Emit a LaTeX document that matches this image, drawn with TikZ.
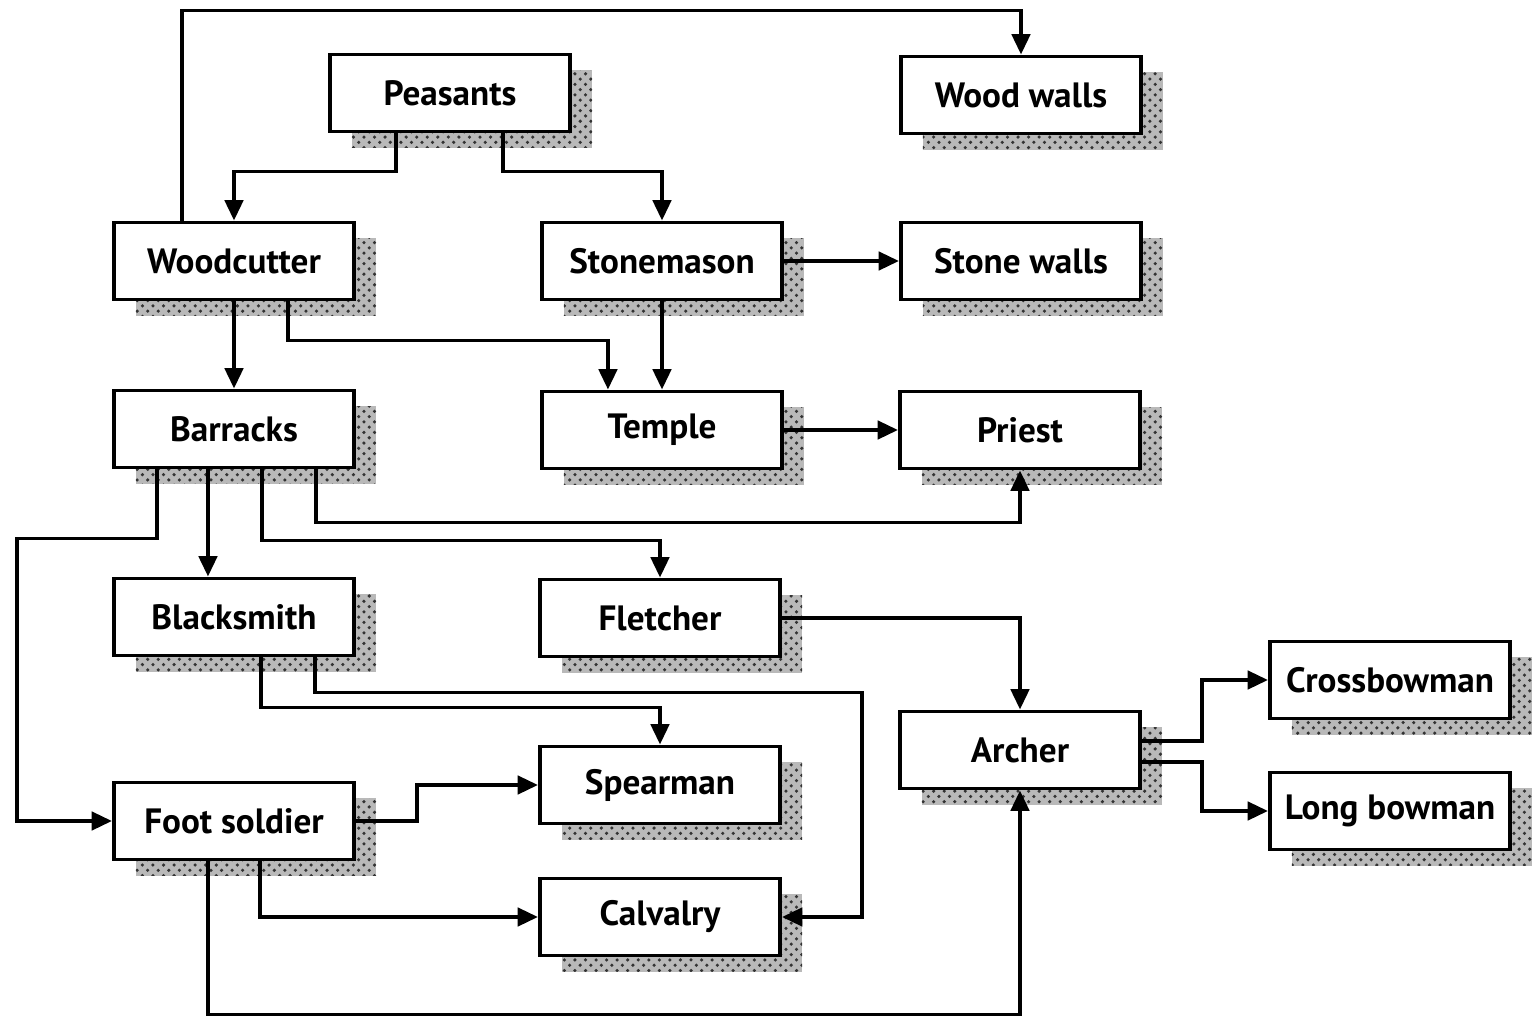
\documentclass[tikz,border=0pt]{standalone}
\usepackage{fontspec}
\setmainfont{PT Sans}
\usepackage{tikz}
\usetikzlibrary{calc}
\usetikzlibrary{arrows.meta}
\usetikzlibrary{shadows}
\usetikzlibrary{patterns}

\tikzset{
  box/.style={rectangle, draw=black, fill=white, line width=1.1pt,
    minimum width=2.4cm, minimum height=0.77cm,
    font=\fontsize{10}{12}\selectfont\bfseries,
    general shadow={fill=gray!55, shadow xshift=0.22cm, shadow yshift=-0.16cm},
    general shadow={pattern=crosshatch dots, pattern color=black!80, shadow xshift=0.22cm, shadow yshift=-0.16cm}},
  link/.style={draw=black, line width=1.1pt, -{Triangle[length=5.8pt, width=5.2pt]}}
}

\begin{document}
\begin{tikzpicture}[x=0.01cm, y=-0.01cm]
\useasboundingbox (0,0) rectangle (1535,1018);

\node [box] (pea) at (450, 93) {Peasants};
\node [box] (ww) at (1021, 95) {Wood walls};
\node [box] (wc) at (234, 261) {Woodcutter};
\node [box] (sm) at (662, 261) {Stonemason};
\node [box] (sw) at (1021, 261) {Stone walls};
\node [box] (br) at (234, 429) {Barracks};
\node [box] (tp) at (662, 430) {Temple};
\node [box] (pr) at (1020, 430) {Priest};
\node [box] (bs) at (234, 617) {Blacksmith};
\node [box] (fl) at (660, 618) {Fletcher};
\node [box] (ar) at (1020, 750) {Archer};
\node [box] (cb) at (1390, 680) {Crossbowman};
\node [box] (lb) at (1390, 811) {Long bowman};
\node [box] (spr) at (660, 785) {Spearman};
\node [box] (fs) at (234, 821) {Foot soldier};
\node [box] (cav) at (660, 917) {Calvalry};

\draw [link] ([xshift=-0.52cm]wc.north) -- ++(0,-210) -| (ww.north);
\draw [link] ([xshift=-0.54cm]pea.south) -- ++(0,38) -| (wc.north);
\draw [link] ([xshift=0.53cm]pea.south) -- ++(0,38) -| (sm.north);
\draw [link] (sm.east) -- (sw.west);
\draw [link] (sm.south) -- (tp.north);
\draw [link] ([xshift=0.54cm]wc.south) -- ++(0,39) -| ([xshift=-0.54cm]tp.north);
\draw [link] (wc.south) -- (br.north);
\draw [link] (tp.east) -- (pr.west);
\draw [link] ([xshift=0.82cm]br.south) -- ++(0,53) -| (pr.south);
\draw [link] ([xshift=-0.77cm]br.south) -- ++(0,69) -- ++(-140,0) |- (fs.west);
\draw [link] ([xshift=-0.26cm]br.south) -- ([xshift=-0.26cm]bs.north);
\draw [link] ([xshift=0.28cm]br.south) -- ++(0,71) -| (fl.north);
\draw [link] (fl.east) -| (ar.north);
\draw [link] ([xshift=0.27cm]bs.south) -- ++(0,50) -| (spr.north);
\draw [link] ([xshift=0.81cm]bs.south) -- ++(0,35) -- ++(547,0) |- (cav.east);
\draw [link] (fs.east) -- ++(61,0) |- (spr.west);
\draw [link] ([xshift=0.26cm]fs.south) |- (cav.west);
\draw [link] ([xshift=-0.26cm]fs.south) -- ++(0,153) -| (ar.south);
\draw [link] ([yshift=0.09cm]ar.east) -- ++(60,0) |- (cb.west);
\draw [link] ([yshift=-0.12cm]ar.east) -- ++(60,0) |- (lb.west);
\end{tikzpicture}
\end{document}
